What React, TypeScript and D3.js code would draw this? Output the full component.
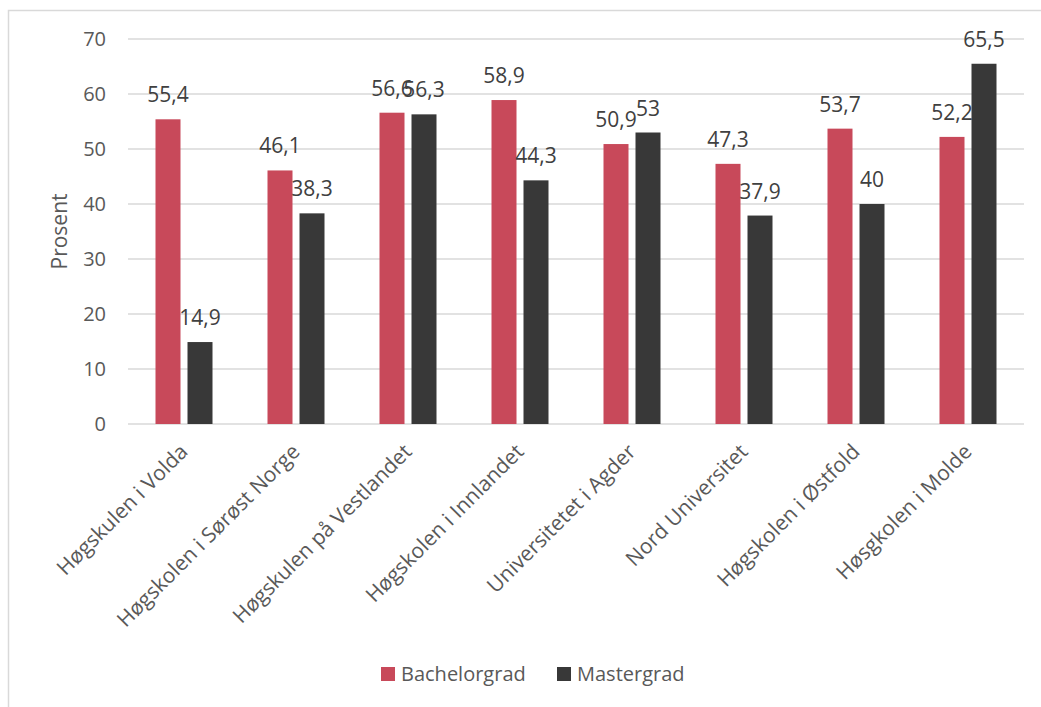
import React from "react";
import * as d3 from "d3";

const categories = [
  "Høgskulen i Volda",
  "Høgskolen i Sørøst Norge",
  "Høgskulen på Vestlandet",
  "Høgskolen i Innlandet",
  "Universitetet i Agder",
  "Nord Universitet",
  "Høgskolen i Østfold",
  "Høsgkolen i Molde",
];
const seriesNames = ["Bachelorgrad", "Mastergrad"];
const bachelor = [55.4, 46.1, 56.6, 58.9, 50.9, 47.3, 53.7, 52.2];
const master = [14.9, 38.3, 56.3, 44.3, 53, 37.9, 40, 65.5];
const yTicks = [0, 10, 20, 30, 40, 50, 60, 70];
const colors = ["#C8495A", "#383838"];

const W = 1041;
const H = 707;
const FONT = "'Open Sans', sans-serif";
const TEXT = "#595959";

function fmt(v: number) {
  return String(v).replace(".", ",");
}

export default function App() {
  const x = d3.scaleBand<string>().domain(categories).range([128, 1024]).padding(0);
  const y = d3.scaleLinear().domain([0, 70]).range([424, 39]);
  const sub = d3
    .scaleBand<string>()
    .domain(seriesNames)
    .range([27.5, x.bandwidth() - 27.5])
    .paddingInner(0.21875)
    .paddingOuter(0);
  const series = [bachelor, master];

  return (
    <svg
      width={W}
      height={H}
      style={{ position: "absolute", left: 0, top: 0, background: "#fff" }}
      fontFamily={FONT}
    >
      <rect x={8.5} y={10.5} width={1100} height={800} fill="#fff" stroke="#d9d9d9" strokeWidth={1.5} />
      {yTicks.map((t) => (
        <g key={t}>
          <line x1={128} x2={1024} y1={y(t)} y2={y(t)} stroke="#d9d9d9" strokeWidth={1.5} />
          <text x={106} y={y(t)} dy="0.35em" textAnchor="end" fontSize={20} fill={TEXT}>
            {t}
          </text>
        </g>
      ))}
      <text
        transform={`translate(67, ${(y(0) + y(70)) / 2}) rotate(-90)`}
        textAnchor="middle"
        fontSize={21}
        fill={TEXT}
      >
        Prosent
      </text>
      {categories.map((c, i) => (
        <g key={c}>
          {series.map((vals, s) => {
            const bx = (x(c) as number) + (sub(seriesNames[s]) as number);
            const v = vals[i];
            return (
              <g key={s}>
                <rect x={bx} y={y(v)} width={sub.bandwidth()} height={y(0) - y(v)} fill={colors[s]} />
                <text
                  x={bx + sub.bandwidth() / 2}
                  y={y(v) - 17}
                  textAnchor="middle"
                  fontSize={21}
                  fill="#404040"
                >
                  {fmt(v)}
                </text>
              </g>
            );
          })}
          <text
            transform={`translate(${(x(c) as number) + x.bandwidth() / 2 + 5}, 453) rotate(-45)`}
            textAnchor="end"
            fontSize={21}
            fill={TEXT}
          >
            {c}
          </text>
        </g>
      ))}
      {seriesNames.map((n, s) => {
        const lx = [381, 557][s];
        return (
          <g key={n}>
            <rect x={lx} y={667} width={14} height={14} fill={colors[s]} />
            <text x={lx + 20} y={674} dy="0.35em" fontSize={20} fill={TEXT}>
              {n}
            </text>
          </g>
        );
      })}
    </svg>
  );
}
